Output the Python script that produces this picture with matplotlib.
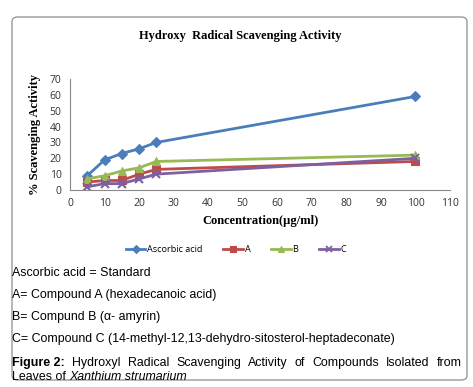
import matplotlib
matplotlib.use("Agg")
import matplotlib.pyplot as plt
from matplotlib.patches import FancyBboxPatch
from matplotlib.lines import Line2D

conc = [5, 10, 15, 20, 25, 100]
ascorbic = [9, 19, 23, 26, 30, 59]
comp_a = [5, 6, 6, 10, 13, 18]
comp_b = [7, 9, 12, 14, 18, 22]
comp_c = [2, 4, 4, 7, 10, 20]
series_names = ["Ascorbic acid", "A", "B", "C"]
x_ticks = list(range(0, 111, 10))
y_ticks = list(range(0, 71, 10))

W, H = 473, 387
fig = plt.figure(figsize=(W / 100, H / 100), dpi=100)

def fx(px):
    return px / W

def fy(py):
    return 1 - py / H

# rounded outer box
box = FancyBboxPatch((fx(12), fy(380)), fx(467) - fx(12), fy(17) - fy(380),
                     boxstyle="round,pad=0,rounding_size=0.012",
                     transform=fig.transFigure, fill=False, edgecolor="#9a9a9a", lw=1.0)
fig.patches.append(box)

ax = fig.add_axes([fx(70), fy(190), fx(450) - fx(70), fy(79) - fy(190)])

colors = ["#4A7EBB", "#BE4B48", "#98B954", "#7D60A0"]
markers = ["D", "s", "^", "x"]
sizes = [5, 6, 6, 6]
data = [ascorbic, comp_a, comp_b, comp_c]
for vals, c, m, s, name in zip(data, colors, markers, sizes, series_names):
    ax.plot(conc, vals, color=c, marker=m, markersize=s, lw=2.0, label=name,
            markeredgewidth=1.5 if m == "x" else 0.8, markeredgecolor=c)

ax.set_xlim(0, 110)
ax.set_ylim(0, 70)
ax.set_xticks(x_ticks)
ax.set_yticks(y_ticks)
for sp in ["top", "right"]:
    ax.spines[sp].set_visible(False)
for sp in ["left", "bottom"]:
    ax.spines[sp].set_color("#8a8a8a")
    ax.spines[sp].set_linewidth(0.8)
ax.tick_params(length=0, labelsize=7.5, colors="#333333", pad=6)
for lbl in ax.get_xticklabels() + ax.get_yticklabels():
    lbl.set_family("Open Sans")

ax.set_xlabel("Concentration(µg/ml)", family="Liberation Serif", fontweight="bold",
              fontsize=9, labelpad=4)
ax.set_ylabel("% Scavenging Activity", family="Liberation Serif", fontweight="bold",
              fontsize=9, labelpad=6)

fig.text(fx(240), fy(36), "Hydroxy  Radical Scavenging Activity", family="Liberation Serif",
         fontweight="bold", fontsize=9, ha="center", va="center")

handles = [Line2D([0], [0], color=c, marker=m, markersize=s - 1, lw=2.0, markeredgecolor=c,
                  markeredgewidth=1.3 if m == "x" else 0.8)
           for c, m, s in zip(colors, markers, sizes)]
leg = fig.legend(handles, series_names, loc="center", bbox_to_anchor=(fx(236), fy(250)),
                 ncol=4, frameon=False, handlelength=2.1, columnspacing=2.3,
                 handletextpad=0.2, prop={"family": "Open Sans", "size": 6.6})

cap_font = {"family": "Liberation Sans", "size": 8.9}
lines = [(273, "Ascorbic acid = Standard"),
         (295, "A= Compound A (hexadecanoic acid)"),
         (317, "B= Compund B (α- amyrin)"),
         (339, "C= Compound C (14-methyl-12,13-dehydro-sitosterol-heptadeconate)")]
for y, t in lines:
    fig.text(fx(12), fy(y), t, ha="left", va="center", **cap_font)

# justified figure caption line
renderer = fig.canvas.get_renderer()
words = ["Figure 2:", "Hydroxyl", "Radical", "Scavenging", "Activity", "of",
         "Compounds", "Isolated", "from"]
arts = []
for i, w in enumerate(words):
    t = fig.text(0, fy(363), w, ha="left", va="center",
                 fontweight="bold" if i == 0 else "normal", **cap_font)
    arts.append(t)
widths = [a.get_window_extent(renderer).width for a in arts]
left, right = 12, 462
gap = (right - left - sum(widths)) / (len(words) - 1)
x = left
for a, w in zip(arts, widths):
    a.set_x(fx(x))
    x += w + gap

t1 = fig.text(fx(12), fy(377), "Leaves of ", ha="left", va="center", **cap_font)
w1 = t1.get_window_extent(renderer).width
fig.text(fx(12 + w1), fy(377), "Xanthium strumarium", ha="left", va="center",
         style="italic", **cap_font)

fig.savefig("out.png", dpi=100)
